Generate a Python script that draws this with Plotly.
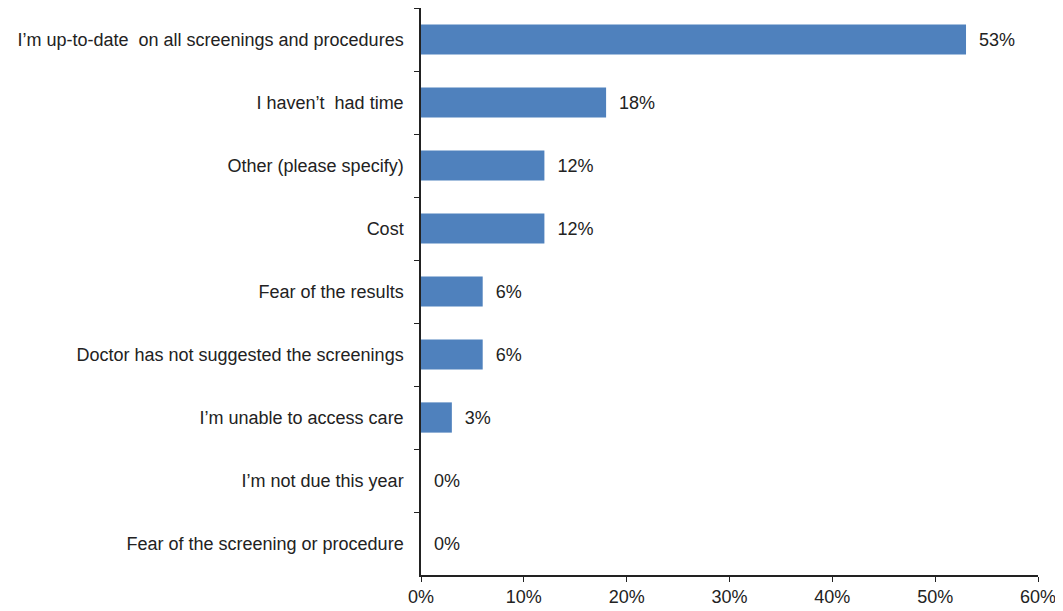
import plotly.graph_objects as go

categories = [
    "I\u2019m up-to-date  on all screenings and procedures",
    "I haven\u2019t  had time",
    "Other (please specify)",
    "Cost",
    "Fear of the results",
    "Doctor has not suggested the screenings",
    "I\u2019m unable to access care",
    "I\u2019m not due this year",
    "Fear of the screening or procedure",
]
values = [0.53, 0.18, 0.12, 0.12, 0.06, 0.06, 0.03, 0.0, 0.0]
x_ticks = [0, 0.1, 0.2, 0.3, 0.4, 0.5, 0.6]
x_tick_labels = ["0%", "10%", "20%", "30%", "40%", "50%", "60%"]

font = "Liberation Sans, Arial, sans-serif"
ink = "#222222"

fig = go.Figure(go.Bar(
    x=values,
    y=categories,
    orientation="h",
    marker=dict(color="#4F81BD", line=dict(width=0)),
    width=0.48,
    texttemplate="  %{x:.0%}",
    textposition="outside",
    cliponaxis=False,
    textfont=dict(family=font, size=18, color=ink),
))

fig.update_layout(
    width=1063, height=611,
    margin=dict(l=413, r=33, t=0, b=44),
    paper_bgcolor="white", plot_bgcolor="white",
    showlegend=False,
    font=dict(family=font, size=18, color=ink),
    xaxis=dict(
        range=[0, 0.6], tickvals=x_ticks, ticktext=x_tick_labels,
        showgrid=False, zeroline=False, showline=True, linecolor="#222",
        linewidth=1.5, ticks="outside", ticklen=5, tickcolor="#222",
        tickfont=dict(family=font, size=18, color=ink),
    ),
    yaxis=dict(
        categoryorder="array", categoryarray=categories, autorange="reversed",
        showgrid=False, showline=True, linecolor="#222", linewidth=1.5,
        ticks="outside", ticklen=5, tickcolor="#222", tickson="boundaries",
        ticklabelstandoff=12,
        tickfont=dict(family=font, size=18, color=ink),
    ),
    bargap=0.52,
)

fig.write_html("out.html")
